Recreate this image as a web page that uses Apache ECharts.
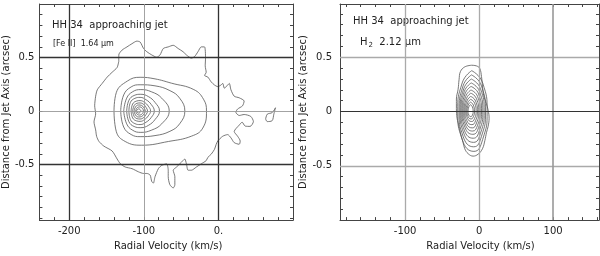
<!DOCTYPE html>
<html>
<head>
<meta charset="utf-8">
<script src="https://cdn.jsdelivr.net/npm/echarts@6/dist/echarts.min.js"></script>
<style>
html, body { margin: 0; padding: 0; background: #fff; }
#chartmain { width: 600px; height: 256px; }
</style>
</head>
<body>
<div id="chartmain"></div>
<script>
// tick labels
var feVelTicks = [-200, -100, 0];
var h2VelTicks = [-100, 0, 100];
var offsetTicks = [-0.5, 0, 0.5];

// reference lines
var feDarkV = [-200, 0];
var feLightV = [-100];
var feDarkY = [-0.5, 0.5];
var feLightY = [0];
var h2LightV = [-100, 0];
var h2MidV = [100];
var h2LightY = [-0.5, 0.5];
var h2DarkY = [0];

// [Fe II] contours, [velocity km/s, offset arcsec]
var feOuter = [[-133.6,0.464],[-133.6,0.524],[-129.2,0.569],[-122.6,0.599],[-115.9,0.629],[-109.3,0.653],[-104.9,0.644],[-100.4,0.584],[-96.0,0.554],[-89.4,0.524],[-82.7,0.503],[-78.3,0.524],[-73.9,0.584],[-67.3,0.599],[-60.6,0.614],[-54.0,0.584],[-47.4,0.554],[-42.9,0.524],[-36.3,0.494],[-31.9,0.509],[-27.4,0.554],[-23.0,0.599],[-18.6,0.599],[-17.3,0.494],[-17.7,0.422],[-16.4,0.362],[-18.6,0.332],[-14.2,0.317],[-9.7,0.272],[-5.3,0.243],[-0.9,0.228],[3.5,0.243],[5.8,0.258],[8.0,0.213],[12.4,0.243],[14.6,0.258],[16.8,0.198],[21.2,0.138],[27.9,0.123],[34.5,0.093],[32.3,0.048],[25.7,0.018],[23.4,-0.012],[27.9,-0.042],[34.5,-0.033],[43.4,-0.051],[46.9,-0.099],[42.5,-0.144],[35.8,-0.141],[31.8,-0.105],[27.9,-0.132],[21.2,-0.192],[25.7,-0.236],[29.2,-0.281],[27.9,-0.311],[21.2,-0.296],[16.8,-0.251],[12.4,-0.221],[5.8,-0.236],[-0.9,-0.281],[-3.1,-0.314],[-5.3,-0.359],[-9.7,-0.404],[-14.2,-0.434],[-16.4,-0.464],[-23.0,-0.494],[-29.6,-0.524],[-36.3,-0.554],[-40.7,-0.554],[-42.9,-0.494],[-45.1,-0.449],[-49.6,-0.479],[-56.2,-0.524],[-60.6,-0.554],[-58.4,-0.614],[-58.4,-0.689],[-60.6,-0.719],[-65.1,-0.689],[-67.3,-0.614],[-67.3,-0.554],[-69.5,-0.494],[-76.1,-0.509],[-80.5,-0.539],[-85.0,-0.614],[-87.2,-0.674],[-89.4,-0.659],[-91.6,-0.599],[-96.0,-0.584],[-100.4,-0.584],[-107.1,-0.569],[-115.9,-0.539],[-124.8,-0.524],[-131.4,-0.494],[-135.8,-0.449],[-142.5,-0.374],[-153.5,-0.329],[-160.2,-0.284],[-163.3,-0.237],[-164.6,-0.177],[-166.8,-0.102],[-164.6,-0.027],[-165.9,0.048],[-164.6,0.138],[-162.4,0.198],[-155.8,0.258],[-149.1,0.317],[-142.5,0.362],[-135.8,0.407],[-133.6,0.464]];
var feIsland = [[63.3,-0.075],[65.5,-0.030],[72.1,-0.015],[76.5,0.030],[74.3,-0.030],[72.1,-0.090],[65.5,-0.099],[63.3,-0.075]];
var feCore = [
	[[-140,0],[-137,0.17],[-122,0.28],[-105,0.315],[-85,0.30],[-63,0.26],[-33,0.20],[-20,0.11],[-16,0],[-21,-0.16],[-36,-0.235],[-67,-0.285],[-103,-0.32],[-125,-0.285],[-137,-0.19],[-140,0]],
	[[-131,0],[-127,0.15],[-117,0.225],[-105,0.245],[-85,0.235],[-65,0.19],[-52,0.12],[-45,0],[-52,-0.12],[-65,-0.19],[-85,-0.23],[-105,-0.24],[-117,-0.22],[-127,-0.15],[-131,0]],
	[[-127,0],[-123,0.12],[-115,0.18],[-104,0.2],[-90,0.18],[-76,0.12],[-66,0],[-76,-0.12],[-90,-0.18],[-104,-0.2],[-115,-0.18],[-123,-0.12],[-127,0]],
	[[-123,0],[-120,0.1],[-113,0.145],[-104,0.156],[-94,0.135],[-85,0.08],[-79,0],[-85,-0.08],[-94,-0.135],[-104,-0.156],[-113,-0.145],[-120,-0.1],[-123,0]],
	[[-120,0],[-118,0.08],[-112,0.118],[-105,0.127],[-97,0.105],[-90,0.06],[-86,0],[-90,-0.06],[-97,-0.105],[-105,-0.127],[-112,-0.118],[-118,-0.08],[-120,0]],
	[[-117,0],[-115,0.065],[-110,0.092],[-105,0.097],[-99,0.08],[-94,0.045],[-91,0],[-94,-0.045],[-99,-0.08],[-105,-0.097],[-110,-0.092],[-115,-0.065],[-117,0]],
	[[-115,0],[-113,0.05],[-109,0.072],[-105,0.075],[-100,0.06],[-97,0.033],[-95,0],[-97,-0.033],[-100,-0.06],[-105,-0.075],[-109,-0.072],[-113,-0.05],[-115,0]],
	[[-113,0],[-111,0.04],[-107,0.056],[-103,0.052],[-100,0.03],[-98,0],[-100,-0.03],[-103,-0.052],[-107,-0.056],[-111,-0.04],[-113,0]],
	[[-111,0],[-109,0.03],[-105,0.038],[-102,0.024],[-100.5,0],[-102,-0.024],[-105,-0.038],[-109,-0.03],[-111,0]],
	[[-110,0],[-107,0.02],[-104,0],[-107,-0.02],[-110,0]]
];

// H2 contours
var h2Core = [
	[[-10.4,0.426],[-3.6,0.420],[0.9,0.396],[3.2,0.322],[4.5,0.234],[6.3,0.145],[9.9,0.071],[12.2,0.012],[13.5,-0.062],[12.2,-0.136],[9.9,-0.195],[7.7,-0.269],[4.5,-0.343],[-1.4,-0.393],[-8.1,-0.411],[-14.9,-0.388],[-19.4,-0.343],[-21.7,-0.284],[-24.8,-0.210],[-27.1,-0.136],[-29.8,-0.062],[-30.7,0.027],[-30.7,0.115],[-28.4,0.204],[-27.1,0.293],[-25.3,0.367],[-19.4,0.411],[-10.4,0.426]],
	[[-10,0.376],[4.8,0.263],[10.8,0],[4.8,-0.257],[-7,-0.367],[-22.9,-0.257],[-28.9,0],[-22.9,0.263],[-10,0.376]],
	[[-10.3,0.337],[3.2,0.236],[8.6,0],[3.2,-0.228],[-7.3,-0.325],[-21.7,-0.228],[-27.1,0],[-21.7,0.236],[-10.3,0.337]],
	[[-10.5,0.299],[1.9,0.209],[6.8,0],[1.9,-0.199],[-7.5,-0.284],[-20.8,-0.199],[-25.7,0],[-20.8,0.209],[-10.5,0.299]],
	[[-10.7,0.263],[0.6,0.184],[5.0,0],[0.6,-0.172],[-7.9,-0.246],[-20.0,-0.172],[-24.4,0],[-20.0,0.184],[-10.7,0.263]],
	[[-10.9,0.231],[-0.7,0.162],[3.2,0],[-0.7,-0.147],[-8.4,-0.210],[-19.1,-0.147],[-23.0,0],[-19.1,0.162],[-10.9,0.231]],
	[[-11,0.198],[-2.1,0.139],[1.4,0],[-2.1,-0.126],[-8.8,-0.180],[-18.2,-0.126],[-21.7,0],[-18.2,0.139],[-11,0.198]],
	[[-11.2,0.169],[-3.5,0.118],[-0.5,0],[-3.5,-0.106],[-9.3,-0.151],[-17.3,-0.106],[-20.3,0],[-17.3,0.118],[-11.2,0.169]],
	[[-11.4,0.139],[-4.8,0.097],[-2.3,0],[-4.8,-0.085],[-9.8,-0.121],[-16.5,-0.085],[-19.0,0],[-16.5,0.097],[-11.4,0.139]],
	[[-11.5,0.112],[-6.1,0.078],[-4.1,0],[-6.1,-0.064],[-10.2,-0.092],[-15.6,-0.064],[-17.6,0],[-15.6,0.078],[-11.5,0.112]],
	[[-11.8,0.086],[-7.8,0.060],[-6.3,0],[-7.8,-0.048],[-10.8,-0.068],[-14.8,-0.048],[-16.3,0],[-14.8,0.060],[-11.8,0.086]],
	[[-11.8,0.062],[-9.1,0.043],[-8.1,0],[-9.1,-0.033],[-11.2,-0.047],[-13.9,-0.033],[-14.9,0],[-13.9,0.043],[-11.8,0.062]]
];

var FONT = 'DejaVu Sans';
var INK = '#444';

function steps(a, b, s) {
	var out = [];
	for (var v = a; v <= b + s / 2; v += s) {
		out.push(Math.round(v * 1000) / 1000);
	}
	return out;
}

function xAx(gi, min, max, labels, pos, fmt, namePad) {
	var ax = {
		type: 'value', gridIndex: gi, min: min, max: max, position: pos,
		axisLine: { show: true, onZero: false, lineStyle: { color: INK, width: 1 } },
		axisTick: { show: true, inside: true, length: 3, customValues: steps(Math.ceil(min / 20) * 20, max, 20), lineStyle: { color: INK } },
		splitLine: { show: false },
		axisLabel: { show: false }
	};
	if (labels) {
		ax.axisLabel = { show: true, customValues: labels, margin: 6, color: '#222', fontFamily: FONT, fontSize: 10, formatter: fmt };
		ax.name = 'Radial Velocity (km/s)';
		ax.nameLocation = 'middle';
		ax.nameGap = 16;
		ax.nameTextStyle = { color: '#222', fontFamily: FONT, fontSize: 10, verticalAlign: 'top', padding: [0, 0, 0, namePad] };
	}
	return ax;
}

function yAx(gi, min, max, labels, pos, gap, lblMargin) {
	var ax = {
		type: 'value', gridIndex: gi, min: min, max: max, position: pos,
		axisLine: { show: true, onZero: false, lineStyle: { color: INK, width: 1 } },
		axisTick: { show: true, inside: true, length: 3, customValues: steps(-1, 1, 0.1).filter(function(v) { return v >= min && v <= max; }), lineStyle: { color: INK } },
		splitLine: { show: false },
		axisLabel: { show: false }
	};
	if (labels) {
		ax.axisLabel = { show: true, customValues: labels, margin: lblMargin, color: '#222', fontFamily: FONT, fontSize: 10 };
		ax.name = 'Distance from Jet Axis (arcsec)';
		ax.nameLocation = 'middle';
		ax.nameGap = gap;
		ax.nameTextStyle = { color: '#222', fontFamily: FONT, fontSize: 10 };
	}
	return ax;
}

function refLines(vs, ys, color, width) {
	var d = [];
	vs.forEach(function(v) { d.push({ xAxis: v, lineStyle: { color: color, width: width, type: 'solid' } }); });
	ys.forEach(function(v) { d.push({ yAxis: v, lineStyle: { color: color, width: width, type: 'solid' } }); });
	return d;
}

function contour(pts, xi, yi, sm) {
	return {
		type: 'line', xAxisIndex: xi, yAxisIndex: yi, data: pts,
		showSymbol: false, smooth: sm, silent: true, animation: false, z: 3,
		lineStyle: { color: '#555', width: 0.8 }
	};
}

var series = [];
var s0 = contour(feIsland, 0, 0, 0.3);
s0.markLine = {
	symbol: 'none', silent: true, animation: false, label: { show: false },
	data: refLines(feDarkV, feDarkY, '#333', 1.3).concat(refLines(feLightV, feLightY, '#999', 0.9))
};
series.push(s0);
series.push(contour(feOuter, 0, 0, 0.25));
feCore.forEach(function(c) { series.push(contour(c, 0, 0, 0.45)); });

var s1 = contour(h2Core[0], 2, 2, 0.4);
s1.markLine = {
	symbol: 'none', silent: true, animation: false, label: { show: false },
	data: refLines(h2LightV, h2LightY, '#aaa', 1.3)
		.concat(refLines(h2MidV, [], '#999', 1.6))
		.concat(refLines([], h2DarkY, '#333', 1))
};
series.push(s1);
h2Core.slice(1).forEach(function(c) { series.push(contour(c, 2, 2, 0.55)); });

var option = {
	backgroundColor: '#fff',
	animation: false,
	grid: [
		{ left: 37, top: 4, width: 256, height: 226 },
		{ left: 340, top: 4, width: 259, height: 225 }
	],
	xAxis: [
		xAx(0, -240, 100, feVelTicks, 'bottom', function(v) { return v === 0 ? '0.' : String(v); }, 4),
		xAx(0, -240, 100, null, 'top'),
		xAx(1, -188, 162, h2VelTicks, 'bottom', function(v) { return String(v); }, 22),
		xAx(1, -188, 162, null, 'top')
	],
	yAxis: [
		yAx(0, -1.02, 1.0, offsetTicks, 'left', 28, 5),
		yAx(0, -1.02, 1.0, null, 'right'),
		yAx(1, -1.0, 0.99, offsetTicks, 'left', 27, 8),
		yAx(1, -1.0, 0.99, null, 'right')
	],
	graphic: [
		{ type: 'text', left: 52, top: 20, style: { text: 'HH 34  approaching jet', font: '10px "DejaVu Sans"', fill: '#222' } },
		{ type: 'text', left: 53, top: 40, style: { text: '[Fe II]  1.64 µm', font: '8px "DejaVu Sans"', fill: '#222' } },
		{ type: 'text', left: 353, top: 16, style: { text: 'HH 34  approaching jet', font: '10px "DejaVu Sans"', fill: '#222' } },
		{ type: 'text', left: 360, top: 37, style: {
			text: '{a|H}{b|2}{a|  2.12 µm}', fill: '#222',
			rich: { a: { fontFamily: FONT, fontSize: 10, fill: '#222' }, b: { fontFamily: FONT, fontSize: 7, fill: '#222', padding: [6, 0, 0, 1] } }
		} }
	],
	series: series
};

var myChart = echarts.init(document.getElementById('chartmain'));
myChart.setOption(option);
</script>
</body>
</html>
